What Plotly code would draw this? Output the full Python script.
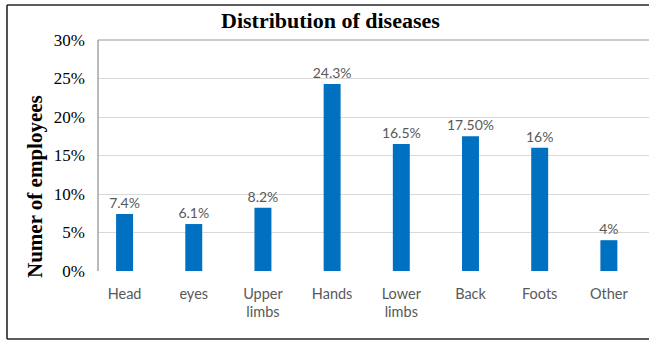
import plotly.graph_objects as go

W, H = 649, 341

categories = ["Head", "eyes", "Upper<br>limbs", "Hands", "Lower<br>limbs", "Back", "Foots", "Other"]
values = [7.4, 6.1, 8.2, 24.3, 16.5, 17.5, 16, 4]
value_labels = ["7.4%", "6.1%", "8.2%", "24.3%", "16.5%", "17.50%", "16%", "4%"]
y_ticks = [0, 5, 10, 15, 20, 25, 30]
y_tick_labels = ["0%", "5%", "10%", "15%", "20%", "25%", "30%"]


def px_x(p):
    return p / W


def px_y(p):
    return 1 - p / H


fig = go.Figure(
    go.Bar(
        x=list(range(len(categories))),
        y=values,
        text=value_labels,
        textposition="outside",
        constraintext="none",
        textfont=dict(family="Lato", size=14, color="#595959"),
        marker=dict(color="#0070C0", line=dict(width=0)),
        width=0.245,
        cliponaxis=False,
    )
)

fig.update_layout(
    width=W,
    height=H,
    margin=dict(l=0, r=0, t=0, b=0, autoexpand=False),
    paper_bgcolor="white",
    plot_bgcolor="white",
    showlegend=False,
    xaxis=dict(
        domain=[px_x(98), 1],
        range=[-0.384, 7.58],
        tickmode="array",
        tickvals=list(range(len(categories))),
        ticktext=categories,
        tickfont=dict(family="Lato", size=14.5, color="#595959"),
        showgrid=False,
        zeroline=False,
        showline=False,
        ticks="",
        ticklabelstandoff=12,
        automargin=False,
    ),
    yaxis=dict(
        domain=[px_y(271), px_y(40)],
        range=[0, 30],
        tickmode="array",
        tickvals=y_ticks,
        ticktext=y_tick_labels,
        tickfont=dict(family="Liberation Serif", size=17, color="black"),
        showgrid=True,
        gridcolor="#D9D9D9",
        gridwidth=1,
        zeroline=False,
        showline=False,
        ticks="",
        ticklabelstandoff=12,
        automargin=False,
    ),
    shapes=[
        # plot area frame: left and top edges
        dict(type="line", xref="paper", yref="paper", x0=px_x(98), x1=px_x(98),
             y0=px_y(271), y1=px_y(40), line=dict(color="#8C8C8C", width=1.2)),
        dict(type="line", xref="paper", yref="paper", x0=px_x(98), x1=1.01,
             y0=px_y(40), y1=px_y(40), line=dict(color="#9A9A9A", width=1.2)),
        # outer chart border
        dict(type="line", xref="paper", yref="paper", x0=px_x(7), x1=px_x(7),
             y0=px_y(339), y1=px_y(5), line=dict(color="#262626", width=1.6)),
        dict(type="line", xref="paper", yref="paper", x0=px_x(7), x1=1.01,
             y0=px_y(5), y1=px_y(5), line=dict(color="#262626", width=1.6)),
        dict(type="line", xref="paper", yref="paper", x0=px_x(7), x1=1.01,
             y0=px_y(339), y1=px_y(339), line=dict(color="#262626", width=1.6)),
    ],
    annotations=[
        dict(text="<b>Distribution of diseases</b>", xref="paper", yref="paper",
             x=px_x(330), y=px_y(21), xanchor="center", yanchor="middle",
             showarrow=False, font=dict(family="Liberation Serif", size=22, color="black")),
        dict(text="<b>Numer of employees</b>", xref="paper", yref="paper",
             x=px_x(35), y=px_y(187), xanchor="center", yanchor="middle",
             textangle=-90, showarrow=False,
             font=dict(family="Liberation Serif", size=21, color="black")),
    ],
)

fig.write_html("out.html")
